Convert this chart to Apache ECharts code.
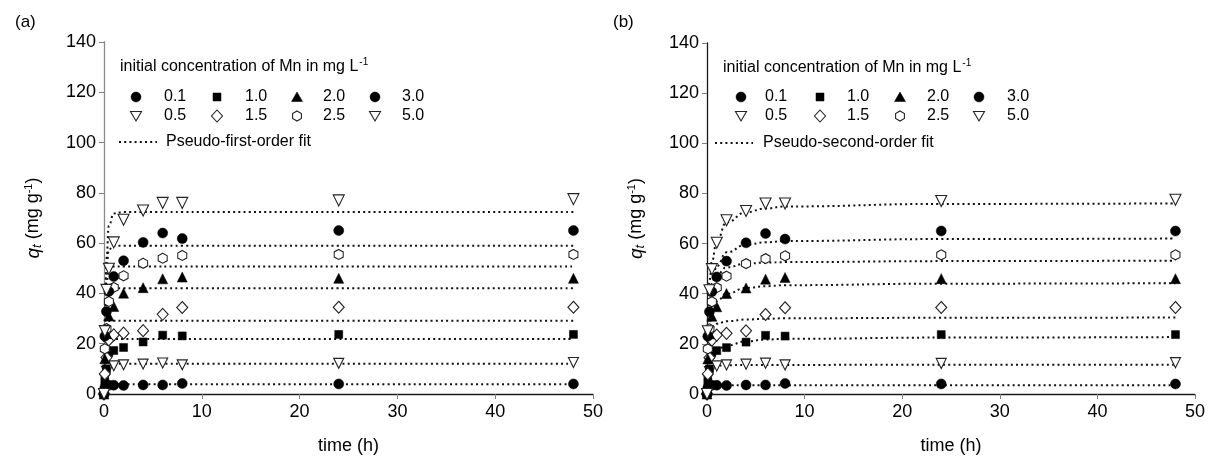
<!DOCTYPE html>
<html>
<head>
<meta charset="utf-8">
<script src="https://cdn.jsdelivr.net/npm/echarts@6/dist/echarts.min.js"></script>
<style>
html,body{margin:0;padding:0;background:#fff;}
#c{width:1208px;height:464px;}
</style>
</head>
<body>
<div id="c"></div>
<script>
// ---- data ----
const concLabels = ['0.1', '0.5', '1.0', '1.5', '2.0', '2.5', '3.0', '5.0'];
const times = [0, 0.083, 0.25, 0.5, 1, 2, 4, 6, 8, 24, 48];
const q01 = [0, 2.5, 3.5, 3.5, 3.5, 3.4, 3.6, 3.6, 4.2, 4.0, 4.0];
const q05 = [0, 6, 9, 10.5, 11.2, 11.6, 11.9, 12.3, 11.6, 12.2, 12.5];
const q10 = [0, 5, 10, 16.5, 17.3, 18.5, 20.7, 23.4, 23.1, 23.7, 23.7];
const q15 = [0, 8, 14.5, 21.5, 23.5, 24.2, 25.2, 31.7, 34.4, 34.5, 34.5];
const q20 = [0, 14, 24, 31, 34.8, 40.1, 42.3, 45.8, 46.5, 46, 46];
const q25 = [0, 18, 26, 36.8, 42.4, 47, 52, 54, 55.1, 55.5, 55.5];
const q30 = [0, 23, 32.8, 40.8, 46.7, 53, 60.3, 64, 61.8, 65, 65];
const q50 = [0, 25, 41.4, 49.8, 60.3, 69.3, 73, 76, 76, 77, 77.5];

// pseudo-first-order fit curves (panel a)
const pfoT = [0, 0.1, 0.25, 0.5, 1, 2, 4, 8, 24, 48];
const pfo01 = [0, 3, 3.8, 3.9, 3.9, 3.9, 3.9, 3.9, 3.9, 3.9];
const pfo05 = [0, 8, 11.3, 12, 12, 12, 12, 12, 12, 12];
const pfo10 = [0, 12, 19.5, 21.7, 21.9, 21.9, 21.9, 21.9, 21.9, 21.9];
const pfo15 = [0, 17, 26.5, 29, 29.1, 29.1, 29.1, 29.1, 29.1, 29.1];
const pfo20 = [0, 23, 37, 41.5, 42.1, 42.1, 42.1, 42.1, 42.1, 42.1];
const pfo25 = [0, 27, 44, 50, 50.7, 50.7, 50.7, 50.7, 50.7, 50.7];
const pfo30 = [0, 30, 50, 57.5, 59, 59, 59, 59, 59, 59];
const pfo50 = [0, 30, 54, 67, 71.8, 72.4, 72.4, 72.4, 72.4, 72.4];

// pseudo-second-order fit curves (panel b)
const psoT = [0, 0.1, 0.25, 0.5, 1, 2, 4, 6, 8, 24, 48];
const pso01 = [0, 2.8, 3.3, 3.4, 3.5, 3.5, 3.5, 3.5, 3.5, 3.5, 3.5];
const pso05 = [0, 7, 10, 11, 11.3, 11.5, 11.6, 11.6, 11.6, 11.7, 11.7];
const pso10 = [0, 8, 13, 16, 17.5, 19.3, 21, 21.7, 22, 22.5, 22.7];
const pso15 = [0, 15, 24, 26.5, 28, 29, 29.7, 30, 30.2, 30.4, 30.5];
const pso20 = [0, 17, 27, 33, 37, 40, 42.3, 43, 43.4, 44, 44.2];
const pso25 = [0, 22, 34, 42, 47.5, 50.5, 52, 52.4, 52.6, 53, 53.2];
const pso30 = [0, 22, 35, 44, 51, 56.5, 59.5, 60.5, 61, 61.8, 62];
const pso50 = [0, 30, 45, 53, 61, 68.5, 72.5, 74, 74.8, 75.8, 76];

const xTicks = [0, 10, 20, 30, 40, 50];
const yTicks = [0, 20, 40, 60, 80, 100, 120, 140];

const legendTitle = 'initial concentration of Mn in mg L';
const fitNames = ['Pseudo-first-order fit', 'Pseudo-second-order fit'];
const panelLabels = ['(a)', '(b)'];

// ---- styling ----
const qData = [q01, q05, q10, q15, q20, q25, q30, q50];
const pfoData = [pfo01, pfo05, pfo10, pfo15, pfo20, pfo25, pfo30, pfo50];
const psoData = [pso01, pso05, pso10, pso15, pso20, pso25, pso30, pso50];

const HEX = 'path://M5,0 L10,2.9 L10,8.7 L5,11.5 L0,8.7 L0,2.9 Z';
const markers = [
  {symbol: 'circle', size: 10, filled: true, rot: 0},
  {symbol: 'triangle', size: 10, filled: false, rot: 180},
  {symbol: 'rect', size: 8, filled: true, rot: 0},
  {symbol: 'diamond', size: [11, 12], filled: false, rot: 0},
  {symbol: 'triangle', size: 10, filled: true, rot: 0},
  {symbol: HEX, size: [9, 10], filled: false, rot: 0},
  {symbol: 'circle', size: 10, filled: true, rot: 0},
  {symbol: 'triangle', size: 11, filled: false, rot: 180}
];

const FONT = 'Liberation Sans, Arial, sans-serif';
const grids = [
  {left: 104, right: 615, top: 42, bottom: 70},
  {left: 707, right: 12, top: 43, bottom: 70}
];

const xAxes = [], yAxes = [], series = [];
grids.forEach((g, gi) => {
  xAxes.push({
    gridIndex: gi, type: 'value', min: 0, max: 50, interval: 10,
    name: 'time (h)', nameLocation: 'middle', nameGap: 43,
    nameTextStyle: {fontFamily: FONT, fontSize: 18, color: '#000'},
    axisLine: {show: true, lineStyle: {color: '#7f7f7f', width: 1}},
    axisTick: {show: true, length: 5, lineStyle: {color: '#7f7f7f'}},
    axisLabel: {fontFamily: FONT, fontSize: 18, color: '#000', margin: 9,
      formatter: v => xTicks.includes(v) ? String(v) : ''},
    splitLine: {show: false}
  });
  xAxes.push({
    gridIndex: gi, type: 'value', position: 'top', min: 0, max: 50,
    axisLine: {show: true, lineStyle: {color: '#1a1a1a', width: 1.3}},
    axisTick: {show: false}, axisLabel: {show: false}, splitLine: {show: false}
  });
  yAxes.push({
    gridIndex: gi, type: 'value', min: 0, max: 140, interval: 20,
    name: '{q|q}{t|t}{n| (mg g}{s|-1}{n|)}', nameLocation: 'middle', nameGap: 60, nameRotate: 90,
    nameTextStyle: {
      fontFamily: FONT, fontSize: 18, color: '#000',
      rich: {
        q: {fontFamily: FONT, fontSize: 19, fontStyle: 'italic', color: '#000'},
        t: {fontFamily: FONT, fontSize: 13, fontStyle: 'italic', color: '#000', verticalAlign: 'bottom', padding: [8, 0, 0, 0]},
        n: {fontFamily: FONT, fontSize: 18, color: '#000'},
        s: {fontFamily: FONT, fontSize: 11, color: '#000', verticalAlign: 'top', padding: [0, 0, 10, 0]}
      }
    },
    axisLine: {show: true, lineStyle: {color: '#7f7f7f', width: 1}},
    axisTick: {show: true, length: 5, lineStyle: {color: '#7f7f7f'}},
    axisLabel: {fontFamily: FONT, fontSize: 18, color: '#000', margin: 8,
      formatter: v => yTicks.includes(v) ? String(v) : ''},
    splitLine: {show: false}
  });
  yAxes.push({
    gridIndex: gi, type: 'value', position: 'right', min: 0, max: 140,
    axisLine: {show: true, lineStyle: {color: gi === 0 ? '#8a8a8a' : '#1a1a1a', width: 1.3}},
    axisTick: {show: false}, axisLabel: {show: false}, splitLine: {show: false}
  });
  const fits = gi === 0 ? pfoData : psoData;
  const fitT = gi === 0 ? pfoT : psoT;
  fits.forEach((arr, i) => {
    series.push({
      type: 'line', xAxisIndex: gi * 2, yAxisIndex: gi * 2,
      data: fitT.map((t, k) => [t, arr[k]]),
      showSymbol: false, smooth: 0.5, smoothMonotone: 'x', silent: true,
      lineStyle: {color: '#111', width: 2, type: [2, 3.2]}, z: 2
    });
  });
  qData.forEach((arr, i) => {
    const m = markers[i];
    series.push({
      type: 'scatter', xAxisIndex: gi * 2, yAxisIndex: gi * 2,
      data: times.map((t, k) => [t, arr[k]]),
      symbol: m.symbol, symbolSize: m.size, symbolRotate: m.rot,
      itemStyle: m.filled ? {color: '#000', borderColor: '#000', borderWidth: 0.5, opacity: 1}
                          : {color: '#fff', borderColor: '#222', borderWidth: 1.1, opacity: 1},
      z: 3, clip: false
    });
  });
});

// ---- legend drawn as graphics ----
function legendShape(i, cx, cy) {
  const m = markers[i];
  const fill = m.filled ? '#000' : '#fff';
  const stroke = m.filled ? '#000' : '#222';
  const lw = m.filled ? 0.5 : 1.1;
  if (m.symbol === 'circle') return {type: 'circle', shape: {cx, cy, r: 5}, style: {fill, stroke, lineWidth: lw}};
  if (m.symbol === 'rect') return {type: 'rect', shape: {x: cx - 4, y: cy - 4, width: 8, height: 8}, style: {fill, stroke, lineWidth: lw}};
  if (m.symbol === 'diamond') return {type: 'polygon', shape: {points: [[cx, cy - 6], [cx + 5.5, cy], [cx, cy + 6], [cx - 5.5, cy]]}, style: {fill, stroke, lineWidth: lw}};
  if (m.symbol === HEX) return {type: 'polygon', shape: {points: [[cx, cy - 5], [cx + 4.4, cy - 2.5], [cx + 4.4, cy + 2.5], [cx, cy + 5], [cx - 4.4, cy + 2.5], [cx - 4.4, cy - 2.5]]}, style: {fill, stroke, lineWidth: lw}};
  if (m.rot === 180) return {type: 'polygon', shape: {points: [[cx - 5.5, cy - 4.5], [cx + 5.5, cy - 4.5], [cx, cy + 5]]}, style: {fill, stroke, lineWidth: lw}};
  return {type: 'polygon', shape: {points: [[cx - 5.5, cy + 4.5], [cx + 5.5, cy + 4.5], [cx, cy - 5]]}, style: {fill, stroke, lineWidth: lw}};
}

const legendCfg = [
  {titleX: 120, titleY: 67, mx: [136, 217, 297, 375], lx: [164, 245, 323, 402], r1: 97, r2: 116, lineX: [119, 157], textX: 166, r3: 142, panelX: 15},
  {titleX: 723, titleY: 68, mx: [741, 820, 900, 979], lx: [765, 847, 927, 1007], r1: 97, r2: 116, lineX: [715, 753], textX: 763, r3: 143, panelX: 613}
];
const LF = 16;
const graphics = [];
legendCfg.forEach((c, gi) => {
  graphics.push({type: 'text', left: c.panelX, top: 14,
    style: {text: panelLabels[gi], font: '17px ' + FONT, fill: '#000'}});
  graphics.push({type: 'text', x: c.titleX, y: c.titleY,
    style: {text: '{n|' + legendTitle + '}{s|-1}', verticalAlign: 'middle', textAlign: 'left',
      rich: {n: {fontFamily: FONT, fontSize: LF, fill: '#000', color: '#000'},
             s: {fontFamily: FONT, fontSize: 10, color: '#000', verticalAlign: 'top', padding: [0, 0, 9, 1]}}}});
  const topRow = [0, 2, 4, 6], botRow = [1, 3, 5, 7];
  topRow.forEach((si, k) => {
    graphics.push(legendShape(si, c.mx[k], c.r1));
    graphics.push({type: 'text', x: c.lx[k], y: c.r1,
      style: {text: concLabels[si], font: LF + 'px ' + FONT, fill: '#000', verticalAlign: 'middle'}});
  });
  botRow.forEach((si, k) => {
    graphics.push(legendShape(si, c.mx[k], c.r2));
    graphics.push({type: 'text', x: c.lx[k], y: c.r2,
      style: {text: concLabels[si], font: LF + 'px ' + FONT, fill: '#000', verticalAlign: 'middle'}});
  });
  graphics.push({type: 'line', shape: {x1: c.lineX[0], y1: c.r3, x2: c.lineX[1], y2: c.r3},
    style: {stroke: '#111', lineWidth: 2, lineDash: [2, 3.2]}});
  graphics.push({type: 'text', x: c.textX, y: c.r3,
    style: {text: fitNames[gi], font: LF + 'px ' + FONT, fill: '#000', verticalAlign: 'middle'}});
});

const chart = echarts.init(document.getElementById('c'), null, {renderer: 'canvas'});
chart.setOption({
  animation: false,
  backgroundColor: '#fff',
  grid: grids,
  xAxis: xAxes,
  yAxis: yAxes,
  series: series,
  graphic: graphics
});
</script>
</body>
</html>
